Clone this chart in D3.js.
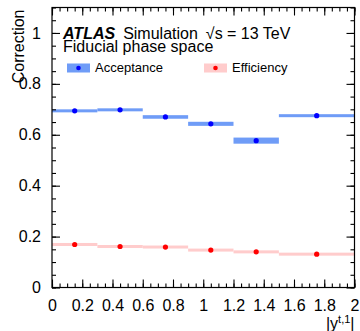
<!DOCTYPE html>
<html>
<head>
<meta charset="utf-8">
<script src="https://cdn.jsdelivr.net/npm/d3@7"></script>
<style>
  body { margin: 0; background: #fff; }
  text { font-family: "Liberation Sans", Arial, sans-serif; fill: #000; }
</style>
</head>
<body>
<div id="chart"></div>
<script>
// bins in |y^{t,1}|
var binEdges = [0, 0.3, 0.6, 0.9, 1.2, 1.5, 2.0];
var binCentres = [0.15, 0.45, 0.75, 1.05, 1.35, 1.75];

var acceptance = [0.694, 0.698, 0.670, 0.643, 0.577, 0.675];
var acceptanceErr = [0.005, 0.004, 0.007, 0.008, 0.012, 0.005];
var efficiency = [0.169, 0.161, 0.159, 0.147, 0.140, 0.131];
var efficiencyErr = [0.004, 0.004, 0.004, 0.004, 0.004, 0.004];

var xMajor = [0, 0.2, 0.4, 0.6, 0.8, 1, 1.2, 1.4, 1.6, 1.8, 2];
var yMajor = [0, 0.2, 0.4, 0.6, 0.8, 1];

var width = 360, height = 331;
var margin = {left: 52, right: 5.5, top: 7.5, bottom: 43.5};
var w = width - margin.left - margin.right;
var h = height - margin.top - margin.bottom;

var svg = d3.select("#chart").append("svg")
    .attr("width", width)
    .attr("height", height);

var g = svg.append("g")
    .attr("transform", "translate(" + margin.left + "," + margin.top + ")");

var x = d3.scaleLinear().domain([0, 2]).range([0, w]);
var y = d3.scaleLinear().domain([0, 1.1]).range([h, 0]);

function drawSeries(vals, errs, bandCol, markCol) {
    var rows = vals.map(function(v, i) {
        return {x0: binEdges[i], x1: binEdges[i+1], xc: binCentres[i], v: v, e: errs[i]};
    });
    g.append("g").selectAll("rect").data(rows).enter().append("rect")
        .attr("x", function(d) { return x(d.x0); })
        .attr("width", function(d) { return x(d.x1) - x(d.x0); })
        .attr("y", function(d) { return Math.min(y(d.v + d.e), y(d.v) - 1.5); })
        .attr("height", function(d) { return Math.max(y(d.v - d.e) - y(d.v + d.e), 3); })
        .attr("fill", bandCol);
    g.append("g").selectAll("circle").data(rows).enter().append("circle")
        .attr("cx", function(d) { return x(d.xc); })
        .attr("cy", function(d) { return y(d.v); })
        .attr("r", 2.6)
        .attr("fill", markCol);
}

drawSeries(acceptance, acceptanceErr, "#6f9cf7", "#0000ff");
drawSeries(efficiency, efficiencyErr, "#ffcccc", "#ff0000");

// frame
g.append("rect")
    .attr("width", w).attr("height", h)
    .attr("fill", "none").attr("stroke", "#000").attr("stroke-width", 1.2);

var xMinor = d3.range(0, 2.0001, 0.05);
var yMinor = d3.range(0, 1.1001, 0.05);

function axisG(gen, tx, ty) {
    var a = g.append("g").attr("transform", "translate(" + tx + "," + ty + ")").call(gen);
    a.select(".domain").remove();
    a.selectAll("line").attr("stroke", "#000").attr("stroke-width", 1.1);
    a.selectAll("text").style("font-size", "16px").attr("fill", "#000");
    return a;
}

// bottom & top
var xb = axisG(d3.axisBottom(x).tickValues(xMajor).tickSize(-8).tickPadding(12)
    .tickFormat(function(d) { return d3.format("")(+d.toFixed(1)); }), 0, h);
xb.selectAll("text").attr("dy", "0.71em");
axisG(d3.axisBottom(x).tickValues(xMinor).tickSize(-4).tickFormat(""), 0, h);
axisG(d3.axisTop(x).tickValues(xMajor).tickSize(-8).tickFormat(""), 0, 0);
axisG(d3.axisTop(x).tickValues(xMinor).tickSize(-4).tickFormat(""), 0, 0);

// left & right
var yl = axisG(d3.axisLeft(y).tickValues(yMajor).tickSize(-8).tickPadding(11)
    .tickFormat(function(d) { return d3.format("")(+d.toFixed(1)); }), 0, 0);
axisG(d3.axisLeft(y).tickValues(yMinor).tickSize(-4).tickFormat(""), 0, 0);
axisG(d3.axisRight(y).tickValues(yMajor).tickSize(-8).tickFormat(""), w, 0);
axisG(d3.axisRight(y).tickValues(yMinor).tickSize(-4).tickFormat(""), w, 0);

// axis titles
svg.append("text")
    .attr("transform", "translate(24," + (margin.top + 2) + ") rotate(-90)")
    .attr("text-anchor", "end")
    .style("font-size", "16px")
    .text("Correction");

var xt = svg.append("text")
    .attr("x", margin.left + w)
    .attr("y", 329)
    .attr("text-anchor", "end")
    .style("font-size", "16px");
xt.append("tspan").text("|y");
xt.append("tspan").attr("dy", -6).style("font-size", "11px").text("t,1");
xt.append("tspan").attr("dy", 6).text("|");

// ATLAS label
var lab = g.append("text").attr("x", 11).attr("y", 31).style("font-size", "16px");
lab.append("tspan").attr("font-weight", "bold").attr("font-style", "italic").text("ATLAS");
lab.append("tspan").attr("dx", 8).text("Simulation");
lab.append("tspan").attr("dx", 8).text("\u221As = 13 TeV");

g.append("text").attr("x", 11).attr("y", 44).style("font-size", "16px")
    .text("Fiducial phase space");

// legend
var legend = [
    {name: "Acceptance", band: "#6f9cf7", mark: "#0000ff", lx: 15},
    {name: "Efficiency", band: "#ffcccc", mark: "#ff0000", lx: 152}
];
var lg = g.selectAll(".leg").data(legend).enter().append("g")
    .attr("transform", function(d) { return "translate(" + d.lx + ",56)"; });
lg.append("rect").attr("width", 23).attr("height", 9).attr("fill", function(d) { return d.band; });
lg.append("circle").attr("cx", 11.5).attr("cy", 4.5).attr("r", 2.3).attr("fill", function(d) { return d.mark; });
lg.append("text").attr("x", 28).attr("y", 8.5).style("font-size", "13px").text(function(d) { return d.name; });
</script>
</body>
</html>
